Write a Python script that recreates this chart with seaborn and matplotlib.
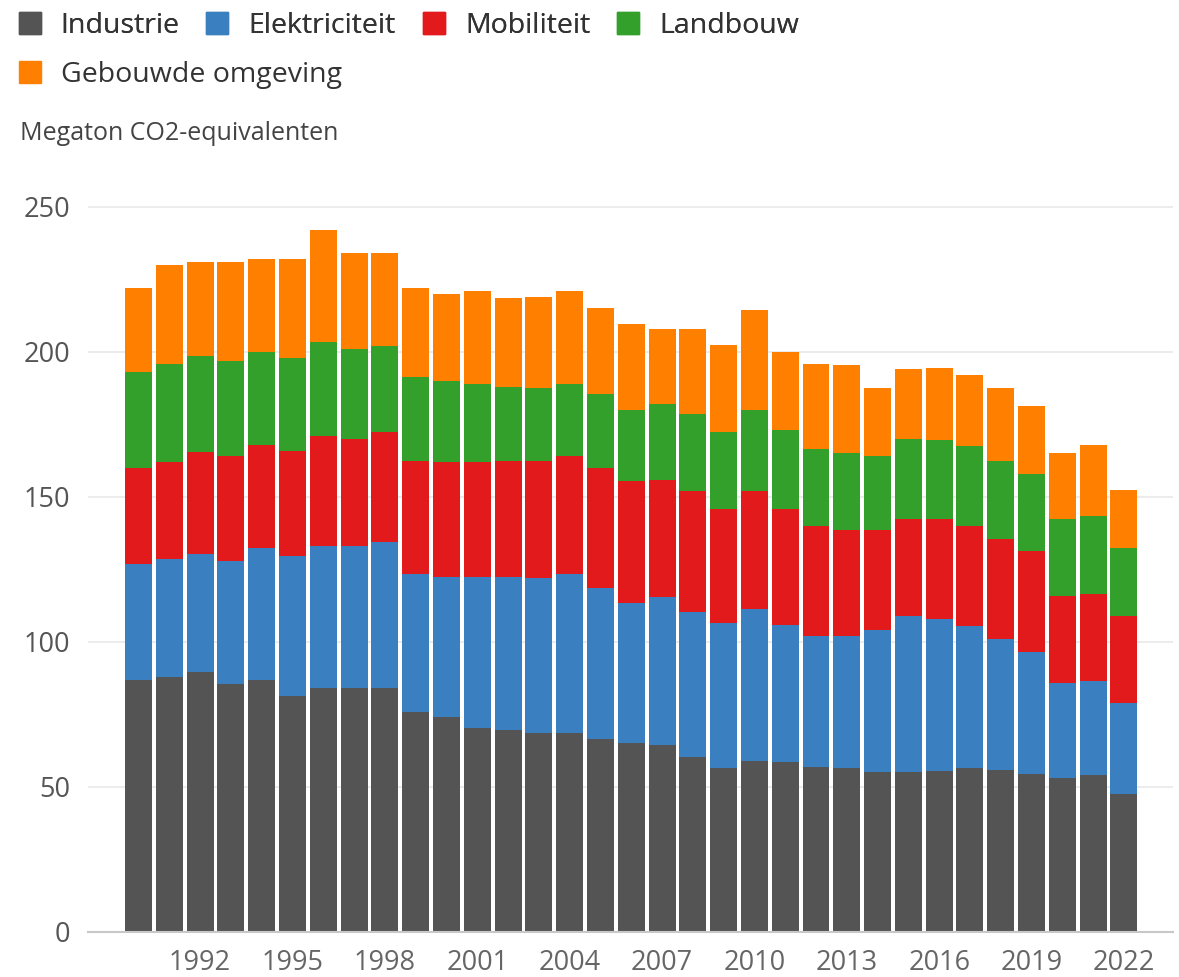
import numpy as np
import pandas as pd
import seaborn as sns
import matplotlib.pyplot as plt
from matplotlib.lines import Line2D

years = list(range(1990, 2023))

# Megaton CO2-equivalenten per sector
industrie = [87, 88, 89.5, 85.5, 87, 81.5, 84, 84, 84, 76, 74, 70.5, 69.5, 68.5, 68.5, 66.5,
             65, 64.5, 60.5, 56.5, 59, 58.5, 57, 56.5, 55, 55, 55.5, 56.5, 56, 54.5, 53, 54, 47.5]
elektriciteit = [40, 40.5, 41, 42.5, 45.5, 48, 49, 49, 50.5, 47.5, 48.5, 52, 53, 53.5, 55, 52,
                 48.5, 51, 50, 50, 52.5, 47.5, 45, 45.5, 49, 54, 52.5, 49, 45, 42, 33, 32.5, 31.5]
mobiliteit = [33, 33.5, 35, 36, 35.5, 36.5, 38, 37, 38, 39, 39.5, 39.5, 40, 40.5, 40.5, 41.5,
              42, 40.5, 41.5, 39.5, 40.5, 40, 38, 36.5, 34.5, 33.5, 34.5, 34.5, 34.5, 35, 30, 30, 30]
landbouw = [33, 34, 33, 33, 32, 32, 32.5, 31, 29.5, 29, 28, 27, 25.5, 25, 25, 25.5,
            24.5, 26, 26.5, 26.5, 28, 27, 26.5, 26.5, 25.5, 27.5, 27, 27.5, 27, 26.5, 26.5, 27, 23.5]
gebouwd = [29, 34, 32.5, 34, 32, 34, 38.5, 33, 32, 30.5, 30, 32, 30.5, 31.5, 32, 29.5,
           29.5, 26, 29.5, 30, 34.5, 27, 29.5, 30.5, 23.5, 24, 25, 24.5, 25, 23.5, 22.5, 24.5, 20]

sectors = ['Industrie', 'Elektriciteit', 'Mobiliteit', 'Landbouw', 'Gebouwde omgeving']
colors = ['#545454', '#3a80c0', '#e31a1c', '#33a02c', '#ff7f00']

df = pd.DataFrame({'jaar': [str(y) for y in years],
                   'Industrie': industrie, 'Elektriciteit': elektriciteit,
                   'Mobiliteit': mobiliteit, 'Landbouw': landbouw,
                   'Gebouwde omgeving': gebouwd})
cum = df[sectors].cumsum(axis=1)

sns.set_style('white')
plt.rcParams['font.family'] = ['Open Sans', 'DejaVu Sans']

fig = plt.figure(figsize=(11.79, 9.77), dpi=100)
ax = fig.add_axes([0.0746, 0.0461, 0.920, 0.7658])

# stacked bars: draw cumulative totals from top sector down
for sec, col in zip(sectors[::-1], colors[::-1]):
    sns.barplot(x=df['jaar'], y=cum[sec], color=col, saturation=1, width=0.876,
                linewidth=0, ax=ax, zorder=2)

ax.set_xlim(-1.64, 33.58)
ax.set_ylim(0, 258)
ax.set_yticks([0, 50, 100, 150, 200, 250])
tick_idx = list(range(2, len(years), 3))
ax.set_xticks(tick_idx)
ax.set_xticklabels([str(years[i]) for i in tick_idx])
ax.set_xlabel('')
ax.set_ylabel('')
ax.tick_params(axis='y', length=0, pad=13, labelsize=19.5, labelcolor='#555555')
ax.tick_params(axis='x', length=0, pad=12, labelsize=19.5, labelcolor='#666666')
ax.grid(axis='y', color='#e9e9e9', lw=1.2, zorder=0)
for s in ['top', 'right', 'left']:
    ax.spines[s].set_visible(False)
ax.spines['bottom'].set_color('#c8c8c8')
ax.spines['bottom'].set_linewidth(1.5)

def handle(c):
    return Line2D([], [], marker='s', linestyle='', markersize=16, markerfacecolor=c,
                  markeredgecolor=c)

leg1 = fig.legend([handle(c) for c in colors[:4]], sectors[:4], loc='upper left',
                  bbox_to_anchor=(0.016, 0.988), ncol=4, frameon=False, fontsize=20.5,
                  handlelength=0.75, handletextpad=0.72, columnspacing=0.95,
                  borderaxespad=0, borderpad=0, labelcolor='#333333')
fig.add_artist(leg1)
fig.legend([handle(colors[4])], sectors[4:], loc='upper left',
           bbox_to_anchor=(0.016, 0.938), frameon=False, fontsize=20.5,
           handlelength=0.75, handletextpad=0.72, borderaxespad=0, borderpad=0,
           labelcolor='#333333')

fig.text(20 / 1179, 1 - 133 / 977, 'Megaton CO2-equivalenten', fontsize=18,
         color='#444444', va='center', ha='left')

fig.savefig('out.png', dpi=100)
